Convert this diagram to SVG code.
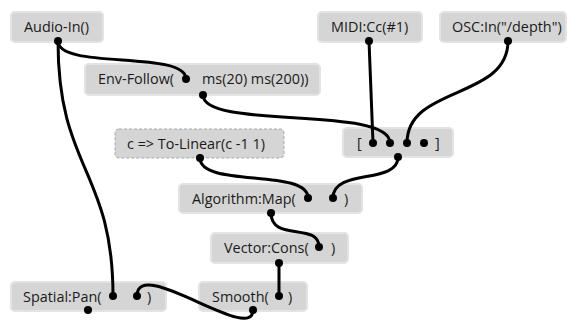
<svg xmlns="http://www.w3.org/2000/svg" width="574" height="322" viewBox="0 0 574 322">
<style>
.box{fill:#d5d5d5;stroke:#e3e3e3;stroke-width:2}
.dash{fill:#d5d5d5;stroke:#a8a8a8;stroke-width:1;stroke-dasharray:3 2}
text{font-family:"Open Sans","Noto Sans",sans-serif;font-size:14.4px;fill:#1a1a1a}
.w{fill:none;stroke:#000;stroke-width:3;stroke-linecap:round}
.p{fill:#000}
</style>
<rect width="574" height="322" fill="#fff"/>
<g id="n-audio"><rect class="box" x="11" y="12" width="92" height="30" rx="4"/><text x="24" y="32">Audio-In()</text></g>
<g id="n-env"><rect class="box" x="85" y="64" width="235" height="31" rx="4"/><text x="98" y="84">Env-Follow(</text><text x="202" y="84">ms(20) ms(200))</text></g>
<g id="n-midi"><rect class="box" x="318" y="12" width="104" height="30" rx="4"/><text x="331" y="32">MIDI:Cc(#1)</text></g>
<g id="n-osc"><rect class="box" x="440" y="12" width="126" height="30" rx="4"/><text x="452" y="32">OSC:In("/depth")</text></g>
<g id="n-list"><rect class="box" x="343" y="128" width="110" height="29" rx="4"/><text x="357" y="148">[</text><text x="435" y="148">]</text></g>
<g id="n-lin"><rect class="dash" x="115" y="129" width="169" height="29" rx="4"/><text x="127" y="149">c =&gt; To-Linear(c -1 1)</text></g>
<g id="n-map"><rect class="box" x="179" y="184" width="183" height="29" rx="4"/><text x="192" y="204">Algorithm:Map(</text><text x="344" y="204">)</text></g>
<g id="n-cons"><rect class="box" x="211" y="233" width="137" height="30" rx="4"/><text x="224" y="253">Vector:Cons(</text><text x="331" y="253">)</text></g>
<g id="n-smooth"><rect class="box" x="199" y="282" width="108" height="29" rx="4"/><text x="212" y="302">Smooth(</text><text x="288" y="302">)</text></g>
<g id="n-pan"><rect class="box" x="11" y="282" width="155" height="29" rx="4"/><text x="23" y="302">Spatial:Pan(</text><text x="147" y="302">)</text></g>
<g id="connectors">
<path class="w" d="M58,41 C58,70 186,50 186,79"/>
<path class="w" d="M58,41 C58,170 113,170 113,296"/>
<path class="w" d="M203,95 C203,130 390,105 390,143"/>
<path class="w" d="M369,41 L373,143"/>
<path class="w" d="M508,41 C508,100 407,85 407,143"/>
<path class="w" d="M398,157 C398,185 333,168 333,198"/>
<path class="w" d="M200,158 C200,188 308,168 308,198"/>
<path class="w" d="M271,213 C271,242 319,222 319,247"/>
<path class="w" d="M279,263 L279,296"/>
<path class="w" d="M253,310 C253,345 137,255 137,296"/>
</g>
<g id="ports">
<circle class="p" cx="58" cy="41" r="4"/>
<circle class="p" cx="186" cy="79" r="4"/>
<circle class="p" cx="203" cy="95" r="4"/>
<circle class="p" cx="369" cy="41" r="4"/>
<circle class="p" cx="508" cy="41" r="4"/>
<circle class="p" cx="373" cy="143" r="4"/>
<circle class="p" cx="390" cy="143" r="4"/>
<circle class="p" cx="407" cy="143" r="4"/>
<circle class="p" cx="424" cy="143" r="4"/>
<circle class="p" cx="398" cy="157" r="4"/>
<circle class="p" cx="200" cy="158" r="4"/>
<circle class="p" cx="308" cy="198" r="4"/>
<circle class="p" cx="333" cy="198" r="4"/>
<circle class="p" cx="271" cy="213" r="4"/>
<circle class="p" cx="319" cy="247" r="4"/>
<circle class="p" cx="279" cy="263" r="4"/>
<circle class="p" cx="279" cy="296" r="4"/>
<circle class="p" cx="253" cy="310" r="4"/>
<circle class="p" cx="113" cy="296" r="4"/>
<circle class="p" cx="137" cy="296" r="4"/>
<circle class="p" cx="88" cy="310" r="4"/>
</g>
</svg>
